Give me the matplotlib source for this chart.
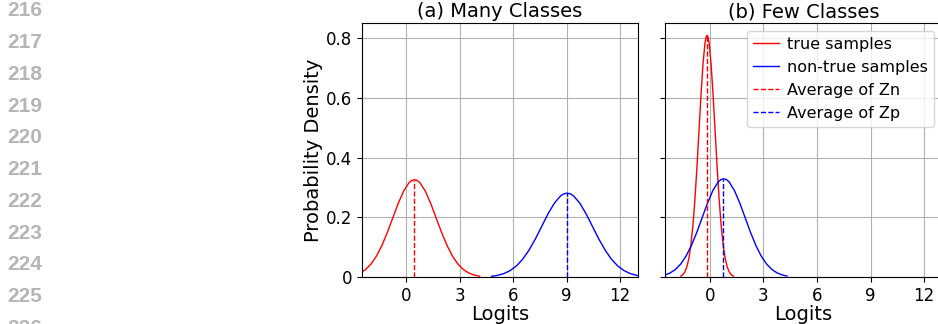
# -*- coding: utf-8 -*-

'''
Logit distributions: many classes vs few classes
'''

import matplotlib
matplotlib.use('Agg')
import matplotlib.pyplot as plt

# (a) Many Classes - true samples (red)
A_TRUE_X = [-2.50, -2.285, -1.98, -1.675, -1.37, -1.065, -0.76, -0.455, -0.15,
            0.155, 0.31, 0.46, 0.61, 0.765, 1.07, 1.375, 1.68, 1.985, 2.29,
            2.595, 2.90, 3.205, 3.51, 3.815, 4.12]
A_TRUE_Y = [0.0170, 0.0259, 0.0441, 0.0705, 0.1059, 0.1492, 0.1977, 0.2461,
            0.2877, 0.3160, 0.3235, 0.326, 0.3235, 0.3160, 0.2877, 0.2461,
            0.1977, 0.1492, 0.1059, 0.0705, 0.0441, 0.0259, 0.0143, 0.0074,
            0.0036]
# (a) Many Classes - non-true samples (blue)
A_NON_X = [4.79, 5.115, 5.47, 5.825, 6.18, 6.535, 6.89, 7.245, 7.60, 7.955,
           8.31, 8.665, 8.843, 9.02, 9.198, 9.375, 9.73, 10.085, 10.44,
           10.795, 11.15, 11.505, 11.86, 12.215, 12.57, 12.925, 13.28]
A_NON_Y = [0.0033, 0.0064, 0.0123, 0.0224, 0.0380, 0.0608, 0.0912, 0.1286,
           0.1704, 0.2121, 0.2480, 0.2723, 0.2788, 0.281, 0.2788, 0.2723,
           0.2480, 0.2121, 0.1704, 0.1286, 0.0912, 0.0608, 0.0380, 0.0224,
           0.0123, 0.0064, 0.0031]

# (b) Few Classes - true samples (red)
B_TRUE_X = [-1.62, -1.50, -1.3875, -1.275, -1.1625, -1.05, -0.9375, -0.825,
            -0.7125, -0.60, -0.4875, -0.375, -0.2625, -0.206, -0.15, -0.094,
            -0.0375, 0.075, 0.1875, 0.30, 0.4125, 0.525, 0.6375, 0.75,
            0.8625, 0.975, 1.0875, 1.20, 1.33]
B_TRUE_Y = [0.0038, 0.0090, 0.0184, 0.0355, 0.0643, 0.1093, 0.1748, 0.2624,
            0.3699, 0.4901, 0.6099, 0.7131, 0.7831, 0.8017, 0.808, 0.8017,
            0.7831, 0.7131, 0.6099, 0.4901, 0.3699, 0.2624, 0.1748, 0.1093,
            0.0643, 0.0355, 0.0184, 0.0090, 0.0037]
# (b) Few Classes - non-true samples (blue)
B_NON_X = [-2.50, -2.22, -1.92, -1.62, -1.32, -1.02, -0.72, -0.42, -0.12,
           0.18, 0.48, 0.63, 0.78, 0.93, 1.08, 1.38, 1.68, 1.98, 2.28, 2.58,
           2.88, 3.18, 3.48, 3.78, 4.08, 4.33]
B_NON_Y = [0.0079, 0.0144, 0.0262, 0.0445, 0.0712, 0.1068, 0.1506, 0.1995,
           0.2483, 0.2903, 0.3189, 0.3264, 0.329, 0.3264, 0.3189, 0.2903,
           0.2483, 0.1995, 0.1506, 0.1068, 0.0712, 0.0445, 0.0262, 0.0144,
           0.0075, 0.0041]

# averages (position, height of dashed marker)
A_AVG_TRUE = (0.46, 0.326)
A_AVG_NON = (9.02, 0.281)
B_AVG_TRUE = (-0.17, 0.808)
B_AVG_NON = (0.77, 0.329)

TITULOS = ['(a) Many Classes', '(b) Few Classes']
X_TICKS = [0, 3, 6, 9, 12]
Y_TICKS = [0, 0.2, 0.4, 0.6, 0.8]
Y_TICK_LABELS = ['0', '0.2', '0.4', '0.6', '0.8']
LEGENDA = ['true samples', 'non-true samples', 'Average of Zn', 'Average of Zp']
LINHAS = ['216', '217', '218', '219', '220', '221', '222', '223', '224',
          '225', '226']


def painel(ax, titulo, xt, yt, xn, yn, avg_t, avg_n):
    '''Desenha um painel'''
    ax.plot(xt, yt, color='red', lw=1.0)
    ax.plot(xn, yn, color='blue', lw=1.0)
    ax.plot([avg_t[0], avg_t[0]], [0, avg_t[1]], '--', color='red', lw=1.0)
    ax.plot([avg_n[0], avg_n[0]], [0, avg_n[1]], '--', color='blue', lw=1.0)
    ax.set_xlim(-2.5, 13)
    ax.set_ylim(0, 0.85)
    ax.set_xticks(X_TICKS)
    ax.set_yticks(Y_TICKS)
    ax.tick_params(labelsize=12)
    ax.set_title(titulo, fontsize=14, pad=4)
    ax.set_xlabel('Logits', fontsize=14, labelpad=0)
    ax.grid(True)


fig = plt.figure(figsize=(9.38, 3.24), dpi=100)
ax1 = fig.add_axes([0.3856, 0.1441, 0.2946, 0.7858])
ax2 = fig.add_axes([0.709, 0.1441, 0.2953, 0.7858])

painel(ax1, TITULOS[0], A_TRUE_X, A_TRUE_Y, A_NON_X, A_NON_Y,
       A_AVG_TRUE, A_AVG_NON)
painel(ax2, TITULOS[1], B_TRUE_X, B_TRUE_Y, B_NON_X, B_NON_Y,
       B_AVG_TRUE, B_AVG_NON)

ax1.set_yticklabels(Y_TICK_LABELS)
ax1.set_ylabel('Probability Density', fontsize=14, labelpad=2)
ax2.set_yticklabels([])
ax2.legend(LEGENDA, fontsize=11.5, loc='upper right', handlelength=1.6,
           handletextpad=0.5)

# numeros de linha da pagina
for i, num in enumerate(LINHAS):
    fig.text(0.0075, 1 - (10.8 + i * 31.77) / 324, num, fontsize=15,
             family='Liberation Sans', weight='bold', color='#b5b5b5',
             va='center', ha='left')

fig.savefig('out.png', dpi=100)
